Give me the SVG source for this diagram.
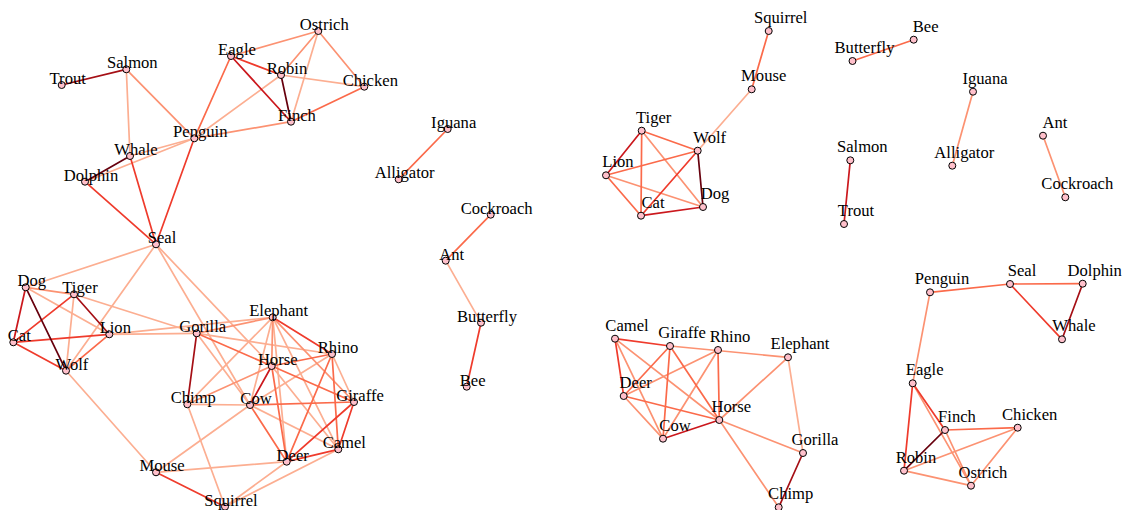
<svg xmlns="http://www.w3.org/2000/svg" width="1124" height="510" viewBox="0 0 1124 510">
  <style>
    .edges line { stroke-width: 1.7; fill: none; stroke-linecap: round; }
    .w1 { stroke: #FCAE91; }
    .w2 { stroke: #FC9272; }
    .w3 { stroke: #FB6A4A; }
    .w4 { stroke: #EF3B2C; }
    .w5 { stroke: #CB181D; }
    .w6 { stroke: #A50F15; }
    .w7 { stroke: #67000D; }
    .node circle { fill: #FFC0CB; stroke: #000; stroke-width: 1; }
    .node text { font-family: "Liberation Serif", "Times New Roman", serif; font-size: 16.6px; fill: #000; text-anchor: middle; }
  </style>
  <rect width="1124" height="510" fill="#fff"/>

  <!-- left panel: full similarity network -->
  <g id="edges-left" class="edges">
    <!-- weakest ties -->
    <line class="w1" x1="126.3" y1="69.3" x2="130" y2="156"/>
    <line class="w1" x1="130" y1="156" x2="194.3" y2="138.3"/>
    <line class="w1" x1="85" y1="181.7" x2="194.3" y2="138.3"/>
    <line class="w1" x1="194.3" y1="138.3" x2="281" y2="75"/>
    <line class="w1" x1="318.3" y1="31" x2="291" y2="121.7"/>
    <line class="w1" x1="281" y1="75" x2="364.3" y2="86.7"/>
    <line class="w1" x1="445.7" y1="260.7" x2="481" y2="322.7"/>
    <line class="w1" x1="156" y1="244.3" x2="25.7" y2="287.3"/>
    <line class="w1" x1="156" y1="244.3" x2="66" y2="370.7"/>
    <line class="w1" x1="156" y1="244.3" x2="250" y2="405"/>
    <line class="w1" x1="156" y1="244.3" x2="271.7" y2="366"/>
    <line class="w1" x1="109.3" y1="334.3" x2="196.7" y2="333.3"/>
    <line class="w1" x1="109.3" y1="334.3" x2="272.7" y2="317.3"/>
    <line class="w1" x1="196.7" y1="333.3" x2="250" y2="405"/>
    <line class="w1" x1="196.7" y1="333.3" x2="332" y2="354"/>
    <line class="w1" x1="187.3" y1="404.3" x2="250" y2="405"/>
    <line class="w1" x1="187.3" y1="404.3" x2="225" y2="506.7"/>
    <line class="w1" x1="272.7" y1="317.3" x2="187.3" y2="404.3"/>
    <line class="w1" x1="272.7" y1="317.3" x2="250" y2="405"/>
    <line class="w1" x1="250" y1="405" x2="338.3" y2="449.3"/>
    <line class="w1" x1="250" y1="405" x2="332" y2="354"/>
    <line class="w1" x1="156" y1="472.3" x2="286.7" y2="461.7"/>
    <line class="w1" x1="225" y1="506.7" x2="286.7" y2="461.7"/>
    <line class="w1" x1="225" y1="506.7" x2="338.3" y2="449.3"/>
    <line class="w1" x1="250" y1="405" x2="156" y2="472.3"/>
    <line class="w1" x1="66" y1="370.7" x2="156" y2="472.3"/>
    <line class="w1" x1="272.7" y1="317.3" x2="338.3" y2="449.3"/>
    <line class="w1" x1="272.7" y1="317.3" x2="286.7" y2="461.7"/>
    <line class="w1" x1="271.7" y1="366" x2="338.3" y2="449.3"/>
    <line class="w1" x1="332" y1="354" x2="354" y2="402"/>
    <line class="w1" x1="25.7" y1="287.3" x2="109.3" y2="334.3"/>
    <line class="w1" x1="74" y1="294.3" x2="196.7" y2="333.3"/>
    <line class="w1" x1="74" y1="294.3" x2="66" y2="370.7"/>
    <!-- light ties -->
    <line class="w2" x1="126.3" y1="69.3" x2="194.3" y2="138.3"/>
    <line class="w2" x1="194.3" y1="138.3" x2="291" y2="121.7"/>
    <line class="w2" x1="231" y1="56" x2="318.3" y2="31"/>
    <line class="w2" x1="281" y1="75" x2="318.3" y2="31"/>
    <line class="w2" x1="318.3" y1="31" x2="364.3" y2="86.7"/>
    <line class="w2" x1="25.7" y1="287.3" x2="74" y2="294.3"/>
    <line class="w2" x1="271.7" y1="366" x2="187.3" y2="404.3"/>
    <line class="w2" x1="272.7" y1="317.3" x2="271.7" y2="366"/>
    <line class="w2" x1="272.7" y1="317.3" x2="354" y2="402"/>
    <line class="w2" x1="196.7" y1="333.3" x2="272.7" y2="317.3"/>
    <!-- medium ties -->
    <line class="w3" x1="194.3" y1="138.3" x2="231" y2="56"/>
    <line class="w3" x1="291" y1="121.7" x2="364.3" y2="86.7"/>
    <line class="w3" x1="447.7" y1="129" x2="398.7" y2="179.3"/>
    <line class="w3" x1="490.7" y1="214.7" x2="445.7" y2="260.7"/>
    <line class="w3" x1="109.3" y1="334.3" x2="66" y2="370.7"/>
    <line class="w3" x1="250" y1="405" x2="354" y2="402"/>
    <line class="w3" x1="271.7" y1="366" x2="332" y2="354"/>
    <line class="w3" x1="271.7" y1="366" x2="354" y2="402"/>
    <line class="w3" x1="271.7" y1="366" x2="286.7" y2="461.7"/>
    <line class="w3" x1="250" y1="405" x2="286.7" y2="461.7"/>
    <line class="w3" x1="332" y1="354" x2="286.7" y2="461.7"/>
    <line class="w3" x1="332" y1="354" x2="338.3" y2="449.3"/>
    <line class="w3" x1="196.7" y1="333.3" x2="271.7" y2="366"/>
    <!-- strong ties -->
    <line class="w4" x1="130" y1="156" x2="156" y2="244.3"/>
    <line class="w4" x1="85" y1="181.7" x2="156" y2="244.3"/>
    <line class="w4" x1="194.3" y1="138.3" x2="156" y2="244.3"/>
    <line class="w4" x1="231" y1="56" x2="281" y2="75"/>
    <line class="w4" x1="74" y1="294.3" x2="13.3" y2="342.3"/>
    <line class="w4" x1="13.3" y1="342.3" x2="109.3" y2="334.3"/>
    <line class="w4" x1="13.3" y1="342.3" x2="66" y2="370.7"/>
    <line class="w4" x1="272.7" y1="317.3" x2="332" y2="354"/>
    <line class="w4" x1="286.7" y1="461.7" x2="338.3" y2="449.3"/>
    <line class="w4" x1="338.3" y1="449.3" x2="354" y2="402"/>
    <line class="w4" x1="286.7" y1="461.7" x2="354" y2="402"/>
    <line class="w4" x1="156" y1="472.3" x2="225" y2="506.7"/>
    <line class="w4" x1="481" y1="322.7" x2="466.7" y2="386.7"/>
    <line class="w5" x1="231" y1="56" x2="291" y2="121.7"/>
    <line class="w5" x1="25.7" y1="287.3" x2="13.3" y2="342.3"/>
    <line class="w5" x1="271.7" y1="366" x2="250" y2="405"/>
    <line class="w6" x1="61.7" y1="85" x2="126.3" y2="69.3"/>
    <line class="w6" x1="74" y1="294.3" x2="109.3" y2="334.3"/>
    <line class="w6" x1="196.7" y1="333.3" x2="187.3" y2="404.3"/>
    <line class="w7" x1="130" y1="156" x2="85" y2="181.7"/>
    <line class="w7" x1="281" y1="75" x2="291" y2="121.7"/>
    <line class="w7" x1="25.7" y1="287.3" x2="66" y2="370.7"/>
  </g>

  <!-- right panel: strongest ties only -->
  <g id="edges-right" class="edges">
    <line class="w1" x1="751.7" y1="89.3" x2="697.7" y2="150.7"/>
    <line class="w1" x1="788" y1="357.3" x2="803" y2="453"/>
    <line class="w2" x1="641.7" y1="130.7" x2="703" y2="207"/>
    <line class="w2" x1="606" y1="175.3" x2="703" y2="207"/>
    <line class="w2" x1="973" y1="91.7" x2="952.3" y2="165.7"/>
    <line class="w2" x1="1043" y1="135.7" x2="1065.3" y2="197.3"/>
    <line class="w2" x1="615" y1="338.7" x2="663" y2="438.7"/>
    <line class="w2" x1="615" y1="338.7" x2="719.3" y2="420"/>
    <line class="w2" x1="718" y1="350" x2="623.7" y2="396"/>
    <line class="w2" x1="718" y1="350" x2="663" y2="438.7"/>
    <line class="w2" x1="788" y1="357.3" x2="719.3" y2="420"/>
    <line class="w2" x1="719.3" y1="420" x2="803" y2="453"/>
    <line class="w2" x1="719.3" y1="420" x2="778.7" y2="507.3"/>
    <line class="w2" x1="623.7" y1="396" x2="663" y2="438.7"/>
    <line class="w2" x1="670" y1="346" x2="788" y2="357.3"/>
    <line class="w2" x1="930" y1="292.3" x2="912.7" y2="383.3"/>
    <line class="w2" x1="912.7" y1="383.3" x2="971" y2="485.7"/>
    <line class="w2" x1="945" y1="430" x2="971" y2="485.7"/>
    <line class="w2" x1="904" y1="470.7" x2="1017.7" y2="427.7"/>
    <line class="w2" x1="904" y1="470.7" x2="971" y2="485.7"/>
    <line class="w2" x1="1017.7" y1="427.7" x2="971" y2="485.7"/>
    <line class="w3" x1="768.7" y1="31" x2="751.7" y2="89.3"/>
    <line class="w3" x1="641.7" y1="130.7" x2="697.7" y2="150.7"/>
    <line class="w3" x1="641.7" y1="130.7" x2="641" y2="215.7"/>
    <line class="w3" x1="606" y1="175.3" x2="697.7" y2="150.7"/>
    <line class="w3" x1="606" y1="175.3" x2="641" y2="215.7"/>
    <line class="w3" x1="852.5" y1="61" x2="913.7" y2="39.7"/>
    <line class="w3" x1="670" y1="346" x2="623.7" y2="396"/>
    <line class="w3" x1="670" y1="346" x2="663" y2="438.7"/>
    <line class="w3" x1="670" y1="346" x2="719.3" y2="420"/>
    <line class="w3" x1="718" y1="350" x2="719.3" y2="420"/>
    <line class="w3" x1="623.7" y1="396" x2="719.3" y2="420"/>
    <line class="w3" x1="930" y1="292.3" x2="1010" y2="284"/>
    <line class="w3" x1="1010" y1="284" x2="1082.7" y2="283.7"/>
    <line class="w3" x1="945" y1="430" x2="1017.7" y2="427.7"/>
    <line class="w4" x1="697.7" y1="150.7" x2="641" y2="215.7"/>
    <line class="w4" x1="615" y1="338.7" x2="670" y2="346"/>
    <line class="w4" x1="615" y1="338.7" x2="623.7" y2="396"/>
    <line class="w4" x1="1010" y1="284" x2="1062" y2="339.3"/>
    <line class="w4" x1="912.7" y1="383.3" x2="904" y2="470.7"/>
    <line class="w4" x1="912.7" y1="383.3" x2="945" y2="430"/>
    <line class="w5" x1="641.7" y1="130.7" x2="606" y2="175.3"/>
    <line class="w5" x1="641" y1="215.7" x2="703" y2="207"/>
    <line class="w5" x1="850.3" y1="160.3" x2="844" y2="224"/>
    <line class="w5" x1="663" y1="438.7" x2="719.3" y2="420"/>
    <line class="w6" x1="803" y1="453" x2="778.7" y2="507.3"/>
    <line class="w6" x1="1082.7" y1="283.7" x2="1062" y2="339.3"/>
    <line class="w7" x1="697.7" y1="150.7" x2="703" y2="207"/>
    <line class="w7" x1="945" y1="430" x2="904" y2="470.7"/>
  </g>

  <!-- left panel nodes -->
  <g id="L-Ostrich" class="node"><circle cx="318.3" cy="31" r="3.5"/><text x="324.3" y="30">Ostrich</text></g>
  <g id="L-Eagle" class="node"><circle cx="231" cy="56" r="3.5"/><text x="237" y="55">Eagle</text></g>
  <g id="L-Robin" class="node"><circle cx="281" cy="75" r="3.5"/><text x="287" y="74">Robin</text></g>
  <g id="L-Chicken" class="node"><circle cx="364.3" cy="86.7" r="3.5"/><text x="370.3" y="85.7">Chicken</text></g>
  <g id="L-Finch" class="node"><circle cx="291" cy="121.7" r="3.5"/><text x="297" y="120.7">Finch</text></g>
  <g id="L-Salmon" class="node"><circle cx="126.3" cy="69.3" r="3.5"/><text x="132.3" y="68.3">Salmon</text></g>
  <g id="L-Trout" class="node"><circle cx="61.7" cy="85" r="3.5"/><text x="67.7" y="84">Trout</text></g>
  <g id="L-Penguin" class="node"><circle cx="194.3" cy="138.3" r="3.5"/><text x="200.3" y="137.3">Penguin</text></g>
  <g id="L-Whale" class="node"><circle cx="130" cy="156" r="3.5"/><text x="136" y="155">Whale</text></g>
  <g id="L-Dolphin" class="node"><circle cx="85" cy="181.7" r="3.5"/><text x="91" y="180.7">Dolphin</text></g>
  <g id="L-Seal" class="node"><circle cx="156" cy="244.3" r="3.5"/><text x="162" y="243.3">Seal</text></g>
  <g id="L-Iguana" class="node"><circle cx="447.7" cy="129" r="3.5"/><text x="453.7" y="128">Iguana</text></g>
  <g id="L-Alligator" class="node"><circle cx="398.7" cy="179.3" r="3.5"/><text x="404.7" y="178.3">Alligator</text></g>
  <g id="L-Cockroach" class="node"><circle cx="490.7" cy="214.7" r="3.5"/><text x="496.7" y="213.7">Cockroach</text></g>
  <g id="L-Ant" class="node"><circle cx="445.7" cy="260.7" r="3.5"/><text x="451.7" y="259.7">Ant</text></g>
  <g id="L-Butterfly" class="node"><circle cx="481" cy="322.7" r="3.5"/><text x="487" y="321.7">Butterfly</text></g>
  <g id="L-Bee" class="node"><circle cx="466.7" cy="386.7" r="3.5"/><text x="472.7" y="385.7">Bee</text></g>
  <g id="L-Dog" class="node"><circle cx="25.7" cy="287.3" r="3.5"/><text x="31.7" y="286.3">Dog</text></g>
  <g id="L-Tiger" class="node"><circle cx="74" cy="294.3" r="3.5"/><text x="80" y="293.3">Tiger</text></g>
  <g id="L-Cat" class="node"><circle cx="13.3" cy="342.3" r="3.5"/><text x="19.3" y="341.3">Cat</text></g>
  <g id="L-Lion" class="node"><circle cx="109.3" cy="334.3" r="3.5"/><text x="115.3" y="333.3">Lion</text></g>
  <g id="L-Wolf" class="node"><circle cx="66" cy="370.7" r="3.5"/><text x="72" y="369.7">Wolf</text></g>
  <g id="L-Gorilla" class="node"><circle cx="196.7" cy="333.3" r="3.5"/><text x="202.7" y="332.3">Gorilla</text></g>
  <g id="L-Elephant" class="node"><circle cx="272.7" cy="317.3" r="3.5"/><text x="278.7" y="316.3">Elephant</text></g>
  <g id="L-Rhino" class="node"><circle cx="332" cy="354" r="3.5"/><text x="338" y="353">Rhino</text></g>
  <g id="L-Horse" class="node"><circle cx="271.7" cy="366" r="3.5"/><text x="277.7" y="365">Horse</text></g>
  <g id="L-Chimp" class="node"><circle cx="187.3" cy="404.3" r="3.5"/><text x="193.3" y="403.3">Chimp</text></g>
  <g id="L-Cow" class="node"><circle cx="250" cy="405" r="3.5"/><text x="256" y="404">Cow</text></g>
  <g id="L-Giraffe" class="node"><circle cx="354" cy="402" r="3.5"/><text x="360" y="401">Giraffe</text></g>
  <g id="L-Camel" class="node"><circle cx="338.3" cy="449.3" r="3.5"/><text x="344.3" y="448.3">Camel</text></g>
  <g id="L-Deer" class="node"><circle cx="286.7" cy="461.7" r="3.5"/><text x="292.7" y="460.7">Deer</text></g>
  <g id="L-Mouse" class="node"><circle cx="156" cy="472.3" r="3.5"/><text x="162" y="471.3">Mouse</text></g>
  <g id="L-Squirrel" class="node"><circle cx="225" cy="506.7" r="3.5"/><text x="231" y="505.7">Squirrel</text></g>

  <!-- right panel nodes -->
  <g id="R-Squirrel" class="node"><circle cx="768.7" cy="31" r="3.5"/><text x="780.7" y="23">Squirrel</text></g>
  <g id="R-Mouse" class="node"><circle cx="751.7" cy="89.3" r="3.5"/><text x="763.7" y="81.3">Mouse</text></g>
  <g id="R-Tiger" class="node"><circle cx="641.7" cy="130.7" r="3.5"/><text x="653.7" y="122.7">Tiger</text></g>
  <g id="R-Wolf" class="node"><circle cx="697.7" cy="150.7" r="3.5"/><text x="709.7" y="142.7">Wolf</text></g>
  <g id="R-Lion" class="node"><circle cx="606" cy="175.3" r="3.5"/><text x="618" y="167.3">Lion</text></g>
  <g id="R-Dog" class="node"><circle cx="703" cy="207" r="3.5"/><text x="715" y="199">Dog</text></g>
  <g id="R-Cat" class="node"><circle cx="641" cy="215.7" r="3.5"/><text x="653" y="207.7">Cat</text></g>
  <g id="R-Butterfly" class="node"><circle cx="852.5" cy="61" r="3.5"/><text x="864.5" y="53">Butterfly</text></g>
  <g id="R-Bee" class="node"><circle cx="913.7" cy="39.7" r="3.5"/><text x="925.7" y="31.7">Bee</text></g>
  <g id="R-Iguana" class="node"><circle cx="973" cy="91.7" r="3.5"/><text x="985" y="83.7">Iguana</text></g>
  <g id="R-Alligator" class="node"><circle cx="952.3" cy="165.7" r="3.5"/><text x="964.3" y="157.7">Alligator</text></g>
  <g id="R-Ant" class="node"><circle cx="1043" cy="135.7" r="3.5"/><text x="1055" y="127.7">Ant</text></g>
  <g id="R-Cockroach" class="node"><circle cx="1065.3" cy="197.3" r="3.5"/><text x="1077.3" y="189.3">Cockroach</text></g>
  <g id="R-Salmon" class="node"><circle cx="850.3" cy="160.3" r="3.5"/><text x="862.3" y="152.3">Salmon</text></g>
  <g id="R-Trout" class="node"><circle cx="844" cy="224" r="3.5"/><text x="856" y="216">Trout</text></g>
  <g id="R-Camel" class="node"><circle cx="615" cy="338.7" r="3.5"/><text x="627" y="330.7">Camel</text></g>
  <g id="R-Giraffe" class="node"><circle cx="670" cy="346" r="3.5"/><text x="682" y="338">Giraffe</text></g>
  <g id="R-Rhino" class="node"><circle cx="718" cy="350" r="3.5"/><text x="730" y="342">Rhino</text></g>
  <g id="R-Elephant" class="node"><circle cx="788" cy="357.3" r="3.5"/><text x="800" y="349.3">Elephant</text></g>
  <g id="R-Deer" class="node"><circle cx="623.7" cy="396" r="3.5"/><text x="635.7" y="388">Deer</text></g>
  <g id="R-Horse" class="node"><circle cx="719.3" cy="420" r="3.5"/><text x="731.3" y="412">Horse</text></g>
  <g id="R-Cow" class="node"><circle cx="663" cy="438.7" r="3.5"/><text x="675" y="430.7">Cow</text></g>
  <g id="R-Gorilla" class="node"><circle cx="803" cy="453" r="3.5"/><text x="815" y="445">Gorilla</text></g>
  <g id="R-Chimp" class="node"><circle cx="778.7" cy="507.3" r="3.5"/><text x="790.7" y="499.3">Chimp</text></g>
  <g id="R-Penguin" class="node"><circle cx="930" cy="292.3" r="3.5"/><text x="942" y="284.3">Penguin</text></g>
  <g id="R-Seal" class="node"><circle cx="1010" cy="284" r="3.5"/><text x="1022" y="276">Seal</text></g>
  <g id="R-Dolphin" class="node"><circle cx="1082.7" cy="283.7" r="3.5"/><text x="1094.7" y="275.7">Dolphin</text></g>
  <g id="R-Whale" class="node"><circle cx="1062" cy="339.3" r="3.5"/><text x="1074" y="331.3">Whale</text></g>
  <g id="R-Eagle" class="node"><circle cx="912.7" cy="383.3" r="3.5"/><text x="924.7" y="375.3">Eagle</text></g>
  <g id="R-Finch" class="node"><circle cx="945" cy="430" r="3.5"/><text x="957" y="422">Finch</text></g>
  <g id="R-Chicken" class="node"><circle cx="1017.7" cy="427.7" r="3.5"/><text x="1029.7" y="419.7">Chicken</text></g>
  <g id="R-Robin" class="node"><circle cx="904" cy="470.7" r="3.5"/><text x="916" y="462.7">Robin</text></g>
  <g id="R-Ostrich" class="node"><circle cx="971" cy="485.7" r="3.5"/><text x="983" y="477.7">Ostrich</text></g>
</svg>
